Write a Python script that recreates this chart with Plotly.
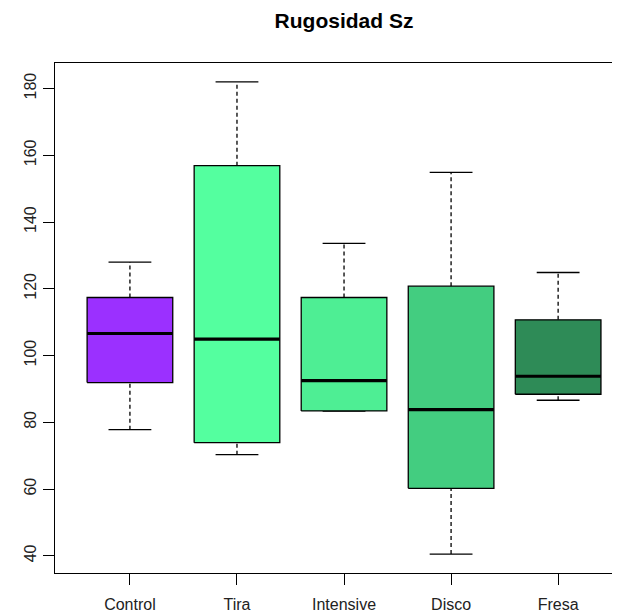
import plotly.graph_objects as go

categories = ["Control", "Tira", "Intensive", "Disco", "Fresa"]
lower_whisker = [77.8, 70.3, 83.4, 40.5, 86.6]
q1 = [91.9, 73.9, 83.4, 60.2, 88.4]
median = [106.6, 104.9, 92.5, 83.8, 93.8]
q3 = [117.4, 156.9, 117.4, 120.8, 110.7]
upper_whisker = [128.0, 182.0, 133.6, 154.9, 124.9]
colors = ["#9B30FF", "#54FF9F", "#4EEE94", "#43CD80", "#2E8B57"]
y_ticks = [40, 60, 80, 100, 120, 140, 160, 180]

fig = go.Figure()
half = 0.4
cap = 0.2
for i, name in enumerate(categories):
    x = i + 1
    # dashed whiskers
    fig.add_trace(go.Scatter(x=[x, x], y=[q3[i], upper_whisker[i]], mode="lines",
                             line=dict(color="black", width=1.3, dash="4px,3px"),
                             showlegend=False, hoverinfo="skip"))
    fig.add_trace(go.Scatter(x=[x, x], y=[lower_whisker[i], q1[i]], mode="lines",
                             line=dict(color="black", width=1.3, dash="4px,3px"),
                             showlegend=False, hoverinfo="skip"))
    # caps
    for v in (upper_whisker[i], lower_whisker[i]):
        fig.add_trace(go.Scatter(x=[x - cap, x + cap], y=[v, v], mode="lines",
                                 line=dict(color="black", width=1.4),
                                 showlegend=False, hoverinfo="skip"))
    # box
    fig.add_trace(go.Scatter(x=[x - half, x + half, x + half, x - half, x - half],
                             y=[q1[i], q1[i], q3[i], q3[i], q1[i]],
                             mode="lines", fill="toself", fillcolor=colors[i],
                             line=dict(color="black", width=1.3),
                             name=name, showlegend=False))
    # median
    fig.add_trace(go.Scatter(x=[x - half, x + half], y=[median[i], median[i]], mode="lines",
                             line=dict(color="black", width=3.2),
                             showlegend=False, hoverinfo="skip"))

fig.update_layout(
    width=612, height=607,
    margin=dict(l=47, r=0, t=55, b=42),
    paper_bgcolor="white", plot_bgcolor="white",
    font=dict(family="Liberation Sans, Arial, sans-serif", size=16, color="#222222"),
    title=dict(text="<b>Rugosidad Sz</b>", x=0.5115, xref="paper", xanchor="center",
               y=1 - 13 / 607, yanchor="middle", yref="container",
               font=dict(size=21, color="black")),
)
fig.update_xaxes(range=[0.3, 5.578], tickmode="array", tickvals=[1, 2, 3, 4, 5],
                 ticktext=categories, showgrid=False, zeroline=False,
                 showline=True, linecolor="black", linewidth=1.3, mirror=True,
                 ticks="outside", ticklen=11, tickwidth=1.3, tickcolor="black",
                 ticklabelstandoff=6)
fig.update_yaxes(range=[34.84, 187.66], tickmode="array", tickvals=y_ticks,
                 showgrid=False, zeroline=False, tickangle=-90,
                 showline=True, linecolor="black", linewidth=1.3, mirror=False,
                 ticks="outside", ticklen=11, tickwidth=1.3, tickcolor="black")

fig.write_html("out.html")
